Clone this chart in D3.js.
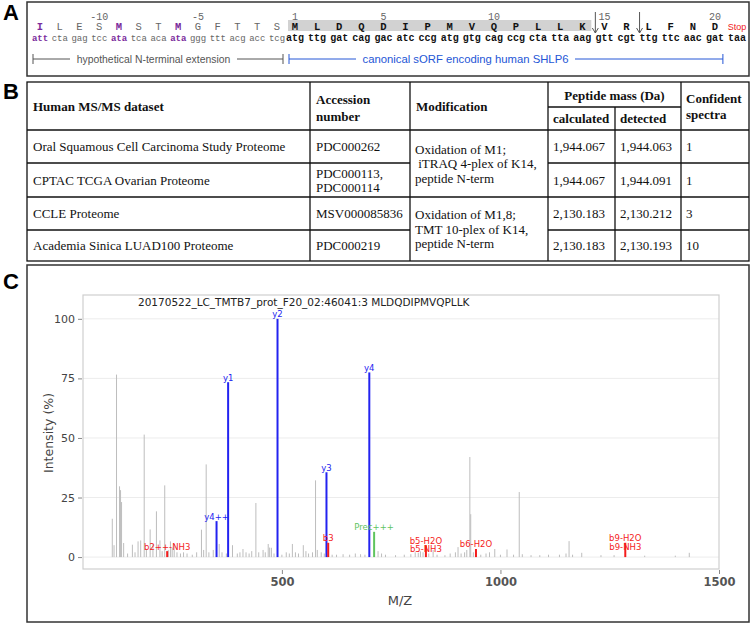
<!DOCTYPE html>
<html>
<head>
<meta charset="utf-8">
<script src="https://cdn.jsdelivr.net/npm/d3@7"></script>
<style>
  body { margin: 0; background: #fff; }
</style>
</head>
<body>
<script>
// ---- panel A data ----
var aminoAcids = ['I','L','E','S','M','S','T','M','G','F','T','T','S',
  'M','L','D','Q','D','I','P','M','V','Q','P','L','L','K','V','R','L','F','N','D','Stop'];
var codons = ['att','cta','gag','tcc','ata','tca','aca','ata','ggg','ttt','acg','acc','tcg',
  'atg','ttg','gat','cag','gac','atc','ccg','atg','gtg','cag','ccg','cta','tta','aag',
  'gtt','cgt','ttg','ttc','aac','gat','taa'];
var purplePositions = [-13, -9, -6];
var numberLabels = [-10, -5, 1, 5, 10, 15, 20];
var peptideRange = [1, 14];
var cleavageSites = [14.5, 16.5];

// ---- panel B data ----
var datasets = ['Oral Squamous Cell Carcinoma Study Proteome', 'CPTAC TCGA Ovarian Proteome',
  'CCLE Proteome', 'Academia Sinica LUAD100 Proteome'];
var accessions = [['PDC000262'], ['PDC000113,', 'PDC000114'], ['MSV000085836'], ['PDC000219']];
var modifications = [['Oxidation of M1;', '\u00a0iTRAQ 4-plex of K14,', 'peptide N-term'],
  ['Oxidation of M1,8;', 'TMT 10-plex of K14,', 'peptide N-term']];
var calcMass = ['1,944.067', '1,944.067', '2,130.183', '2,130.183'];
var detMass = ['1,944.063', '1,944.091', '2,130.212', '2,130.193'];
var spectra = ['1', '1', '3', '10'];

// ---- panel C data ----
var spectrumTitle = '20170522_LC_TMTB7_prot_F20_02:46041:3 MLDQDIPMVQPLLK';
var grayMz = [112,116,121.7,128.6,130.9,133.2,138,147,158,164,171,177,185,190,198.6,205,213,221,226,232,
  240,245,249,253.6,260,268,275,283,295,305,316,321,326.8,333,343,356.6,363,373,387,398,404,411,418,425,
  431,440.5,447,457,462,468.7,472,476,482,500,510,517,524,531,538,549,555,561,570,577,581,590,597,615,
  625,640,655,668,680,690,720,728,737,760,780,795,805,812,817,823,836,846,855,873,885,897,903,910,918,
  923,930,932,938,955,967,975,987,1000,1015,1030,1043,1050,1070,1090,1110,1135,1150,1157,1165,1186,
  1230,1260,1330,1400,1432];
var grayInt = [16.1,5,76.6,29.7,28.1,23.1,5.9,1.5,5.2,2,6.6,7,51.4,3,11.6,5.5,19.2,7,2.5,30.1,
  3,6.6,4,5.5,2,1.5,2,1.5,1,2,11.5,3,38.9,2,3,5.5,2,1.5,5,1.5,2,3.4,2,1.5,
  2.5,22.7,2,3,2,5.5,4,3.9,1.5,1,2,1.5,5.5,2,1.5,5,2.5,1.5,2,32.2,3,2,1.5,1,
  1,1.2,1,1.5,1.2,1,2.5,1.5,1,0.8,1,1.2,2,1.8,2.4,2,1.5,3,1,0.8,1.5,2,4.2,1.5,2,
  3,42,18,2,1,1.5,2,3.4,1,3.2,1,27.3,1.2,0.8,0.8,1,1,1.5,6.7,1,1.8,
  0.8,0.8,0.6,0.6,1.8];
var ionMz = [237.6, 350.5, 377, 490, 602, 606, 700, 711, 829.5, 944, 1285.6];
var ionInt = [2.5, 15.1, 73.4, 100, 35.6, 6.0, 77.5, 10.6, 5.0, 3.4, 6.0];
var ionLabels = [['b2++-NH3'], ['y4++'], ['y1'], ['y2'], ['y3'], ['b3'], ['y4'], ['Prec+++'],
  ['b5-H2O', 'b5-NH3'], ['b6-H2O'], ['b9-H2O', 'b9-NH3']];
var ionTypes = ['b', 'y', 'y', 'y', 'y', 'b', 'y', 'p', 'b', 'b', 'b'];
var yTicks = [0, 25, 50, 75, 100];
var xTicks = [500, 1000, 1500];

var ionColor = { y: '#2323f0', b: '#f41c1c', p: '#5fc45f' };

var svg = d3.select(document.body).append('svg')
  .attr('width', 754).attr('height', 626)
  .style('font-family', 'Liberation Sans, Arial, sans-serif');

// panel letters
svg.selectAll('text.panel').data(['A', 'B', 'C']).enter().append('text')
  .attr('class', 'panel')
  .attr('x', 3)
  .attr('y', function(d, i) { return [20, 99, 289][i]; })
  .attr('font-size', 22).attr('font-weight', 'bold')
  .text(function(d) { return d; });

// ================= panel A =================
var boxA = svg.append('g');
boxA.append('rect').attr('x', 27).attr('y', 2).attr('width', 722).attr('height', 74)
  .attr('fill', 'none').attr('stroke', '#333').attr('stroke-width', 1.5);

var seqX = d3.scaleLinear().domain([-13, -1, 1, 21]).range([40, 277, 295, 737]);
function posOf(i) { return i < 13 ? i - 13 : i - 12; }

boxA.append('rect')
  .attr('x', seqX(peptideRange[0]) - 7).attr('y', 20)
  .attr('width', seqX(peptideRange[1]) - seqX(peptideRange[0]) + 16).attr('height', 11)
  .attr('fill', '#d2d2d2');

boxA.selectAll('text.num').data(numberLabels).enter().append('text')
  .attr('x', function(d) { return seqX(d); }).attr('y', 19.5)
  .attr('text-anchor', 'middle').attr('font-family', 'Liberation Mono, monospace')
  .attr('font-size', 10).attr('fill', '#666')
  .text(function(d) { return d; });

boxA.selectAll('text.aa').data(aminoAcids).enter().append('text')
  .attr('x', function(d, i) { return seqX(posOf(i)); }).attr('y', 30)
  .attr('text-anchor', 'middle')
  .attr('font-family', function(d) { return d === 'Stop' ? 'Liberation Sans, sans-serif' : 'Liberation Mono, monospace'; })
  .attr('font-size', function(d) { return d === 'Stop' ? 9 : 10.5; })
  .attr('font-weight', function(d, i) {
    var p = posOf(i);
    return (purplePositions.indexOf(p) >= 0 || (p >= 1 && p <= 20)) ? 'bold' : 'normal';
  })
  .attr('fill', function(d, i) {
    var p = posOf(i);
    if (d === 'Stop') return '#f02020';
    if (purplePositions.indexOf(p) >= 0) return '#7a2b9c';
    return p < 0 ? '#666' : '#111';
  })
  .text(function(d) { return d; });

boxA.selectAll('text.codon').data(codons).enter().append('text')
  .attr('x', function(d, i) { return seqX(posOf(i)); }).attr('y', 40.5)
  .attr('text-anchor', 'middle').attr('font-family', 'Liberation Mono, monospace')
  .attr('font-size', function(d, i) { return posOf(i) < 0 ? 9 : 10; })
  .attr('font-weight', function(d, i) {
    var p = posOf(i);
    return (purplePositions.indexOf(p) >= 0 || p > 0) ? 'bold' : 'normal';
  })
  .attr('fill', function(d, i) {
    var p = posOf(i);
    if (purplePositions.indexOf(p) >= 0) return '#7a2b9c';
    return p < 0 ? '#666' : '#111';
  })
  .text(function(d) { return d; });

// cleavage arrows
cleavageSites.forEach(function(s) {
  var x = seqX(s) + 2;
  boxA.append('path')
    .attr('d', 'M' + x + ',12 L' + x + ',33 M' + (x - 3) + ',28 L' + x + ',33 L' + (x + 3) + ',28')
    .attr('fill', 'none').attr('stroke', '#555').attr('stroke-width', 1);
});

// brackets
function bracket(x0, x1, t0, t1, color, label, fs) {
  var y = 59;
  var g = boxA.append('g').attr('stroke', color).attr('stroke-width', 1);
  g.append('line').attr('x1', x0).attr('x2', x0).attr('y1', y - 5).attr('y2', y + 5);
  g.append('line').attr('x1', x1).attr('x2', x1).attr('y1', y - 5).attr('y2', y + 5);
  g.append('line').attr('x1', x0).attr('x2', t0).attr('y1', y).attr('y2', y);
  g.append('line').attr('x1', t1).attr('x2', x1).attr('y1', y).attr('y2', y);
  boxA.append('text').attr('x', (t0 + t1) / 2).attr('y', y + 4).attr('text-anchor', 'middle')
    .attr('font-size', fs).attr('fill', color).text(label);
}
bracket(seqX(-13) - 7, seqX(-1) + 6, 70, 237, '#555', 'hypothetical N-terminal extension', 10.4);
bracket(seqX(1) - 6, seqX(20) + 8, 356, 575, '#2456d6', 'canonical sORF encoding human SHLP6', 11.3);

// ================= panel B =================
var tb = svg.append('g').attr('font-family', 'Liberation Serif, Times New Roman, serif')
  .attr('font-size', 13).attr('fill', '#111');
var colX = [27, 310, 410, 548, 615, 681, 749];
var rowY = [82, 130, 163, 197, 230, 261];
var lineStyle = function(sel) { return sel.attr('stroke', '#111').attr('stroke-width', 1.3); };

lineStyle(tb.append('rect').attr('x', colX[0]).attr('y', rowY[0])
  .attr('width', colX[6] - colX[0]).attr('height', rowY[5] - rowY[0]).attr('fill', 'none'));
colX.slice(1, 6).forEach(function(x, i) {
  var top = (i === 3) ? 107 : rowY[0];
  lineStyle(tb.append('line').attr('x1', x).attr('x2', x).attr('y1', top).attr('y2', rowY[5]));
});
lineStyle(tb.append('line').attr('x1', colX[3]).attr('x2', colX[5]).attr('y1', 107).attr('y2', 107));
lineStyle(tb.append('line').attr('x1', colX[0]).attr('x2', colX[6]).attr('y1', rowY[1]).attr('y2', rowY[1]));
[2, 4].forEach(function(r) {
  lineStyle(tb.append('line').attr('x1', colX[0]).attr('x2', colX[2]).attr('y1', rowY[r]).attr('y2', rowY[r]));
  lineStyle(tb.append('line').attr('x1', colX[3]).attr('x2', colX[6]).attr('y1', rowY[r]).attr('y2', rowY[r]));
});
lineStyle(tb.append('line').attr('x1', colX[0]).attr('x2', colX[6]).attr('y1', rowY[3]).attr('y2', rowY[3]));

function cell(x, y, txt, bold, anchor) {
  tb.append('text').attr('x', x).attr('y', y).attr('font-weight', bold ? 'bold' : 'normal')
    .attr('text-anchor', anchor || 'start').text(txt);
}
cell(colX[0] + 6, 111, 'Human MS/MS dataset', true);
cell(colX[1] + 6, 104, 'Accession', true);
cell(colX[1] + 6, 121, 'number', true);
cell(colX[2] + 6, 111, 'Modification', true);
cell((colX[3] + colX[5]) / 2, 100, 'Peptide mass (Da)', true, 'middle');
cell(colX[3] + 5, 123, 'calculated', true);
cell(colX[4] + 5, 123, 'detected', true);
cell(colX[5] + 5, 103, 'Confident', true);
cell(colX[5] + 5, 119, 'spectra', true);

datasets.forEach(function(d, r) {
  var cy = (rowY[r + 1] + rowY[r + 2]) / 2 + 4.5;
  cell(colX[0] + 6, cy, d);
  var acc = accessions[r];
  acc.forEach(function(a, k) { cell(colX[1] + 6, cy + (k - (acc.length - 1) / 2) * 14, a); });
  cell(colX[3] + 5, cy, calcMass[r]);
  cell(colX[4] + 5, cy, detMass[r]);
  cell(colX[5] + 5, cy, spectra[r]);
});
modifications.forEach(function(m, k) {
  var cy = (rowY[1 + 2 * k] + rowY[3 + 2 * k]) / 2 + 4.5;
  m.forEach(function(t, j) { cell(colX[2] + 5, cy + (j - 1) * 14.5, t); });
});

// ================= panel C =================
svg.append('rect').attr('x', 27).attr('y', 265).attr('width', 722).attr('height', 357)
  .attr('fill', 'none').attr('stroke', '#333').attr('stroke-width', 1.5);

var xC = d3.scaleLinear().domain([45, 1500]).range([83, 719]);
var yC = d3.scaleLinear().domain([-5, 110]).range([569, 295]);
var ch = svg.append('g').attr('font-family', 'DejaVu Sans, Verdana, sans-serif');

ch.selectAll('line.grid').data(yTicks).enter().append('line')
  .attr('x1', xC.range()[0]).attr('x2', xC.range()[1])
  .attr('y1', function(d) { return yC(d); }).attr('y2', function(d) { return yC(d); })
  .attr('stroke', '#ececec').attr('stroke-width', 1);

ch.append('rect').attr('x', xC.range()[0]).attr('y', yC.range()[1])
  .attr('width', xC.range()[1] - xC.range()[0]).attr('height', yC.range()[0] - yC.range()[1])
  .attr('fill', 'none').attr('stroke', '#cfcfcf').attr('stroke-width', 1.2);

var yAxis = ch.append('g').attr('transform', 'translate(' + (xC.range()[0] - 1) + ',0)')
  .call(d3.axisLeft(yC).tickValues(yTicks).tickSize(4).tickPadding(3));
var xAxis = ch.append('g').attr('transform', 'translate(0,' + (yC.range()[0] + 1) + ')')
  .call(d3.axisBottom(xC).tickValues(xTicks).tickFormat(d3.format('d')).tickSize(4).tickPadding(4));
[yAxis, xAxis].forEach(function(a) {
  a.select('.domain').remove();
  a.selectAll('line').attr('stroke', '#888');
  a.selectAll('text').attr('font-family', 'DejaVu Sans, Verdana, sans-serif').attr('fill', '#444');
});
yAxis.selectAll('text').attr('font-size', 11);
xAxis.selectAll('text').attr('font-size', 11.5).attr('font-weight', 'bold').attr('fill', '#555');

ch.append('text').attr('transform', 'translate(53,433) rotate(-90)').attr('text-anchor', 'middle')
  .attr('font-size', 12.5).attr('fill', '#444').text('Intensity (%)');
ch.append('text').attr('x', 400).attr('y', 605).attr('text-anchor', 'middle')
  .attr('font-size', 13).attr('fill', '#444').text('M/Z');
ch.append('text').attr('x', 138).attr('y', 306).attr('font-size', 10.5).attr('fill', '#222')
  .text(spectrumTitle);

ch.selectAll('line.gray').data(grayMz).enter().append('line')
  .attr('x1', function(d) { return xC(d); }).attr('x2', function(d) { return xC(d); })
  .attr('y1', yC(0)).attr('y2', function(d, i) { return yC(grayInt[i]); })
  .attr('stroke', '#bdbdbd').attr('stroke-width', 1);

ch.selectAll('line.ion').data(ionMz).enter().append('line')
  .attr('x1', function(d) { return xC(d); }).attr('x2', function(d) { return xC(d); })
  .attr('y1', yC(0)).attr('y2', function(d, i) { return yC(ionInt[i]); })
  .attr('stroke', function(d, i) { return ionColor[ionTypes[i]]; }).attr('stroke-width', 2);

ionMz.forEach(function(mz, i) {
  ionLabels[i].forEach(function(lab, k) {
    ch.append('text').attr('x', xC(mz)).attr('y', yC(ionInt[i]) - 1.5 + k * 8.5)
      .attr('text-anchor', 'middle').attr('font-size', 8.5)
      .attr('fill', ionColor[ionTypes[i]]).text(lab);
  });
});
</script>
</body>
</html>
